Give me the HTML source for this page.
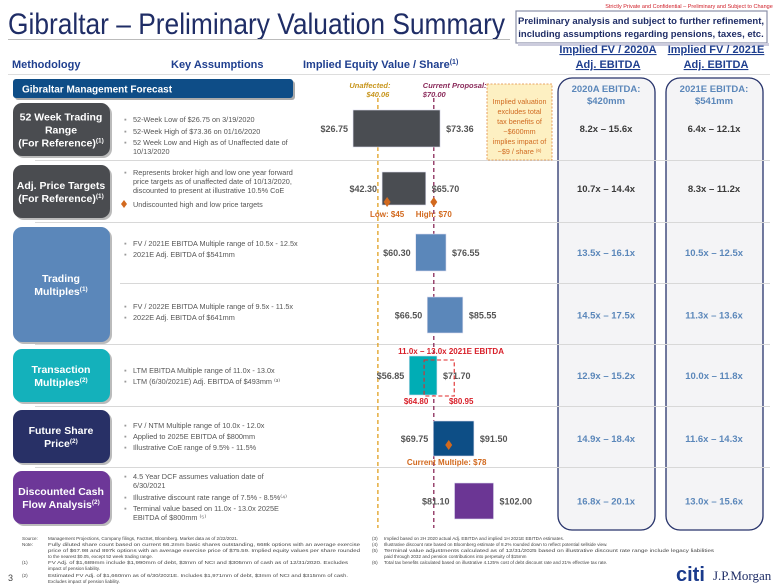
<!DOCTYPE html>
<html><head><meta charset="utf-8"><style>
body{margin:0;background:#fff}
svg{display:block;font-family:"Liberation Sans",Arial,sans-serif}
</style></head><body>
<svg id="c" width="780" height="585" viewBox="0 0 780 585">
<text x="689" y="8" font-size="5.5" fill="#d0202a" text-anchor="middle">Strictly Private and Confidential – Preliminary and Subject to Change</text>
<text x="8" y="34" font-size="30" fill="#1f2d66" textLength="497" lengthAdjust="spacingAndGlyphs">Gibraltar – Preliminary Valuation Summary</text>
<g>
<rect x="516" y="11" width="251" height="32" fill="#fff" stroke="#8a8fa8" stroke-width="1.2"/>
<rect x="518" y="43" width="251" height="3" fill="#ccd"/>
<text x="641" y="24" font-size="9.5" font-weight="bold" fill="#1f2d66" text-anchor="middle">Preliminary analysis and subject to further refinement,</text>
<text x="641" y="37" font-size="9.5" font-weight="bold" fill="#1f2d66" text-anchor="middle">including assumptions regarding pensions, taxes, etc.</text>
</g>
<line x1="8" y1="39.5" x2="510" y2="39.5" stroke="#bbb"/>
<g font-size="11" font-weight="bold" fill="#1f3f8f">
<text x="12" y="68">Methodology</text>
<text x="171" y="68">Key Assumptions</text>
<text x="303" y="68">Implied Equity Value / Share<tspan font-size="7" dy="-4">(1)</tspan></text>
<text x="608" y="53" text-anchor="middle" text-decoration="underline">Implied FV / 2020A</text>
<text x="608" y="68" text-anchor="middle" text-decoration="underline">Adj. EBITDA</text>
<text x="716" y="53" text-anchor="middle" text-decoration="underline">Implied FV / 2021E</text>
<text x="716" y="68" text-anchor="middle" text-decoration="underline">Adj. EBITDA</text>
</g>
<line x1="8" y1="74.5" x2="770" y2="74.5" stroke="#ddd"/>
<g>
<rect x="15" y="81" width="280" height="19" rx="3" fill="#aaa"/>
<rect x="13" y="79" width="280" height="19" rx="3" fill="#0e4d87"/>
<text x="22" y="92.5" font-size="10" font-weight="bold" fill="#fff">Gibraltar Management Forecast</text>
</g>
<g><rect x="558" y="78" width="97" height="452" rx="14" fill="#f4f4f6" stroke="#27336b" stroke-width="1.3"/>
<text x="606" y="92" font-size="9.5" font-weight="bold" fill="#5b87ba" text-anchor="middle">2020A EBITDA:</text>
<text x="606" y="104" font-size="9.5" font-weight="bold" fill="#5b87ba" text-anchor="middle">$420mm</text></g>
<g><rect x="666" y="78" width="97" height="452" rx="14" fill="#f4f4f6" stroke="#27336b" stroke-width="1.3"/>
<text x="714" y="92" font-size="9.5" font-weight="bold" fill="#5b87ba" text-anchor="middle">2021E EBITDA:</text>
<text x="714" y="104" font-size="9.5" font-weight="bold" fill="#5b87ba" text-anchor="middle">$541mm</text></g>
<g id="seps" stroke="#d8d8d8" stroke-width="1"></g>
<g id="boxes"></g>
<g id="bullets" font-size="7.3" fill="#555"></g>
<g id="chart"></g>
<g id="mults" font-size="9.5" font-weight="bold" text-anchor="middle"></g>
<g>
<rect x="487" y="84" width="65" height="76" fill="#fdf0c2" stroke="#e08a40" stroke-dasharray="2,1.5" stroke-width="0.8"/>
<g font-size="7.2" fill="#d06a20" text-anchor="middle">
<text x="519.5" y="104">Implied valuation</text><text x="519.5" y="114">excludes total</text><text x="519.5" y="124">tax benefits of</text><text x="519.5" y="134">~$600mm</text><text x="519.5" y="144">implies impact of</text><text x="519.5" y="154">~$9 / share <tspan font-size="4.5" dy="-2">(6)</tspan></text></g></g>
<g font-size="4.6" fill="#444">
<text x="22" y="540">Source:</text><text x="48" y="540">Management Projections, Company filings, FactSet, Bloomberg. Market data as of 2/22/2021.</text>
<text x="22" y="546">Note:</text><text x="48" y="546" textLength="312" lengthAdjust="spacingAndGlyphs">Fully diluted share count based on current 66.2mm basic shares outstanding, 668k options with an average exercise</text>
<text x="48" y="552" textLength="312" lengthAdjust="spacingAndGlyphs">price of $67.98 and 897k options with an average exercise price of $75.59. Implied equity values per share rounded</text>
<text x="48" y="558">to the nearest $0.05, except 52 week trading range.</text>
<text x="22" y="564">(1)</text><text x="48" y="564" textLength="300" lengthAdjust="spacingAndGlyphs">FV Adj. of $1,689mm include $1,990mm of debt, $3mm of NCI and $305mm of cash as of 12/31/2020. Excludes</text>
<text x="48" y="570">impact of pension liability.</text>
<text x="22" y="577">(2)</text><text x="48" y="577" textLength="300" lengthAdjust="spacingAndGlyphs">Estimated FV Adj. of $1,660mm as of 6/30/2021E. Includes $1,971mm of debt, $3mm of NCI and $315mm of cash.</text>
<text x="48" y="583">Excludes impact of pension liability.</text>
<text x="372" y="540">(3)</text><text x="384" y="540">Implied based on 2H 2020 actual Adj. EBITDA and implied 1H 2021E EBITDA estimates.</text>
<text x="372" y="546">(4)</text><text x="384" y="546">Illustrative discount rate based on Bloomberg estimate of 8.2% rounded down to reflect potential sellside view.</text>
<text x="372" y="552">(5)</text><text x="384" y="552" textLength="330" lengthAdjust="spacingAndGlyphs">Terminal value adjustments calculated as of 12/31/2025 based on illustrative discount rate range include legacy liabilities</text>
<text x="384" y="558">paid through 2032 and pension contributions into perpetuity of $15mm</text>
<text x="372" y="564">(6)</text><text x="384" y="564">Total tax benefits calculated based on illustrative 4.125% cost of debt discount rate and 21% effective tax rate.</text>
</g>
<text x="8" y="581" font-size="9" fill="#444">3</text>
<g>
<text x="676" y="581" font-size="20" font-weight="bold" fill="#1a3a8c">citi</text>
<text x="713" y="580" font-size="13" fill="#1f2d66" font-family="Liberation Serif, serif">J.P.Morgan</text>
</g>
</svg>
<script>
const NS="http://www.w3.org/2000/svg";
const lows=[26.75,42.30,60.30,66.50,56.85,69.75,81.10];
const highs=[73.36,65.70,76.55,85.55,71.70,91.50,102.00];
const lowLabels=["$26.75","$42.30","$60.30","$66.50","$56.85","$69.75","$81.10"];
const highLabels=["$73.36","$65.70","$76.55","$85.55","$71.70","$91.50","$102.00"];
const barColors=["#4a4d52","#4a4d52","#5b87ba","#5b87ba","#00adb5","#0d4e86","#6b3694"];
const unaffected=40.06, proposal=70.00;
const targetDiamonds=[45,70];
const currentMultiple=78;
const txnDashed=[64.80,80.95];
const mult2020=["8.2x – 15.6x","10.7x – 14.4x","13.5x – 16.1x","14.5x – 17.5x","12.9x – 15.2x","14.9x – 18.4x","16.8x – 20.1x"];
const mult2021=["6.4x – 12.1x","8.3x – 11.2x","10.5x – 12.5x","11.3x – 13.6x","10.0x – 11.8x","11.6x – 14.3x","13.0x – 15.6x"];

const rowTop=[110,172,234,297,356,421,483], rowH=[37,33,37,36,39,35,36];
const X=v=>303.1+1.867*v;
function el(t,a,p,txt){const e=document.createElementNS(NS,t);for(const k in a)e.setAttribute(k,a[k]);if(txt!=null)e.textContent=txt;p.appendChild(e);return e;}
const chart=document.getElementById('chart');
const seps=document.getElementById('seps');
[160,222,344,406,467].forEach(y=>{const l=el('line',{x1:35,y1:y+.5,x2:770,y2:y+.5},seps);});
{const l=el('line',{x1:120,y1:283.5,x2:770,y2:283.5},seps);}
const r1=el('line',{x1:X(unaffected),y1:98,x2:X(unaffected),y2:528,stroke:"#e0a020","stroke-dasharray":"4,3","stroke-width":1.3},chart);

const r2=el('line',{x1:X(proposal),y1:98,x2:X(proposal),y2:528,stroke:"#8a2a5a","stroke-dasharray":"4,3","stroke-width":1.3},chart);

el('text',{x:X(unaffected)-8,y:88,"font-size":7.5,"font-weight":"bold","font-style":"italic",fill:"#c8961e","text-anchor":"middle"},chart,"Unaffected:");
el('text',{x:X(unaffected),y:97,"font-size":7.5,"font-weight":"bold","font-style":"italic",fill:"#c8961e","text-anchor":"middle"},chart,"$"+unaffected.toFixed(2));
el('text',{x:X(proposal)-11,y:88,"font-size":7.5,"font-weight":"bold","font-style":"italic",fill:"#8a2a5a"},chart,"Current Proposal:");
el('text',{x:X(proposal)-11,y:97,"font-size":7.5,"font-weight":"bold","font-style":"italic",fill:"#8a2a5a"},chart,"$"+proposal.toFixed(2));
lows.forEach((lo,i)=>{
 const b=el('rect',{x:X(lo),y:rowTop[i],width:X(highs[i])-X(lo),height:rowH[i],fill:barColors[i],stroke:"#dde",'stroke-width':0.6},chart);
 
 const cy=rowTop[i]+rowH[i]/2+3.5;
 const a=el('text',{x:X(lo)-5,y:cy,"font-size":9,"font-weight":"bold",fill:"#555","text-anchor":"end"},chart,lowLabels[i]);
 
 const c=el('text',{x:X(highs[i])+6,y:cy,"font-size":9,"font-weight":"bold",fill:"#555"},chart,highLabels[i]);
 
 const m=document.getElementById('mults');
 const col=i<2?"#3a3a3a":"#5b87ba";
 const t1=el('text',{x:606,y:cy,fill:col},m,mult2020[i]);
 const t2=el('text',{x:714,y:cy,fill:col},m,mult2021[i]);
});
function diamond(v,cy,name){const x=X(v);const d=el('polygon',{points:`${x},${cy-5} ${x+3.5},${cy} ${x},${cy+5} ${x-3.5},${cy}`,fill:"#d2691e"},chart);}
diamond(targetDiamonds[0],202,'low-target-marker');diamond(targetDiamonds[1],202,'high-target-marker');
el('text',{x:X(targetDiamonds[0]),y:217,"font-size":8,"font-weight":"bold",fill:"#d2691e","text-anchor":"middle"},chart,"Low: $"+targetDiamonds[0]);
el('text',{x:X(targetDiamonds[1]),y:217,"font-size":8,"font-weight":"bold",fill:"#d2691e","text-anchor":"middle"},chart,"High: $"+targetDiamonds[1]);
diamond(currentMultiple,445,'current-multiple-marker');
el('text',{x:X(currentMultiple)-2,y:465,"font-size":8,"font-weight":"bold",fill:"#d2691e","text-anchor":"middle"},chart,"Current Multiple: $"+currentMultiple);
const dr=el('rect',{x:X(txnDashed[0]),y:360,width:X(txnDashed[1])-X(txnDashed[0]),height:36,fill:"none",stroke:"#e02a2a","stroke-dasharray":"4,2.5","stroke-width":1.1},chart);

el('text',{x:X(txnDashed[0])+27,y:354,"font-size":8,"font-weight":"bold",fill:"#d8202a","text-anchor":"middle"},chart,"11.0x – 13.0x 2021E EBITDA");
el('text',{x:X(txnDashed[0])-8,y:404,"font-size":8,"font-weight":"bold",fill:"#d8202a","text-anchor":"middle"},chart,"$"+txnDashed[0].toFixed(2));
el('text',{x:X(txnDashed[1])+7,y:404,"font-size":8,"font-weight":"bold",fill:"#d8202a","text-anchor":"middle"},chart,"$"+txnDashed[1].toFixed(2));
const boxes=[{y:103,h:53,c:"#4a4c50",t:["52 Week Trading","Range","(For Reference)"],s:1},
{y:165,h:53,c:"#4a4c50",t:["Adj. Price Targets","(For Reference)"],s:1},
{y:227,h:115,c:"#5b87ba",t:["Trading","Multiples"],s:1},
{y:349,h:53,c:"#14b1bb",t:["Transaction","Multiples"],s:2},
{y:410,h:53,c:"#283066",t:["Future Share","Price"],s:2},
{y:471,h:53,c:"#6d3798",t:["Discounted Cash","Flow Analysis"],s:2}];
const names=['52-week-box','price-targets-box','trading-multiples-box','transaction-multiples-box','future-share-price-box','dcf-box'];
const bg=document.getElementById('boxes');
boxes.forEach((b,i)=>{
 const g=el('g',{},bg);
 el('rect',{x:15,y:b.y+2,width:97,height:b.h,rx:9,fill:"#bbb"},g);
 el('rect',{x:13,y:b.y,width:97,height:b.h,rx:9,fill:b.c},g);
 const n=b.t.length,lh=13,start=b.y+b.h/2-(n-1)*lh/2+4;
 b.t.forEach((s,j)=>{const t=el('text',{x:61,y:start+j*lh,"font-size":10.5,"font-weight":"bold",fill:"#fff","text-anchor":"middle"},g,s);
  if(j==n-1){el('tspan',{"font-size":6.5,dy:-4},t,"("+b.s+")");}});
});
const bl=document.getElementById('bullets');
const bul=[[122,["52-Week Low of $26.75 on 3/19/2020"]],[134,["52-Week High of $73.36 on 01/16/2020"]],[145,["52 Week Low and High as of Unaffected date of","10/13/2020"]],
[175,["Represents broker high and low one year forward","price targets as of unaffected date of 10/13/2020,","discounted to present at illustrative 10.5% CoE"]],
[246,["FV / 2021E EBITDA Multiple range of 10.5x - 12.5x"]],[257,["2021E Adj. EBITDA of $541mm"]],
[309,["FV / 2022E EBITDA Multiple range of 9.5x - 11.5x"]],[320,["2022E Adj. EBITDA of $641mm"]],
[373,["LTM EBITDA Multiple range of 11.0x - 13.0x"]],[384,["LTM (6/30/2021E) Adj. EBITDA of $493mm ⁽³⁾"]],
[428,["FV / NTM Multiple range of 10.0x - 12.0x"]],[439,["Applied to 2025E EBITDA of $800mm"]],[450,["Illustrative CoE range of 9.5% - 11.5%"]],
[479,["4.5 Year DCF assumes valuation date of","6/30/2021"]],[500,["Illustrative discount rate range of 7.5% - 8.5%⁽⁴⁾"]],[511,["Terminal value based on 11.0x - 13.0x 2025E","EBITDA of $800mm ⁽⁵⁾"]]];
bul.forEach(([y,lines])=>{el('text',{x:124,y:y,fill:"#999"},bl,"▪");lines.forEach((s,j)=>{const t=el('text',{x:133,y:y+j*9},bl,s);});});
el('polygon',{points:"124,200 127,204 124,208 121,204",fill:"#d2691e"},bl);
el('text',{x:133,y:207},bl,"Undiscounted high and low price targets");
</script>
</body></html>
